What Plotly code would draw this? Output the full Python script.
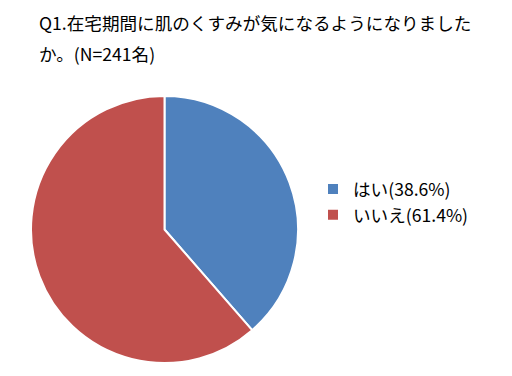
import plotly.graph_objects as go

labels = ["はい(38.6%)", "いいえ(61.4%)"]
values = [38.6, 61.4]
colors = ["#4F81BD", "#C0504D"]
title_lines = ["Q1.在宅期間に肌のくすみが気になるようになりました", "か。(N=241名)"]

W, H = 512, 376
FONT = "Noto Sans CJK JP"

fig = go.Figure(go.Pie(
    labels=labels,
    values=values,
    marker=dict(colors=colors, line=dict(color="white", width=2)),
    sort=False,
    direction="clockwise",
    rotation=0,
    textinfo="none",
    hoverinfo="label",
    domain=dict(x=[31 / W, 298 / W], y=[13 / H, 280 / H]),
))

for i, line in enumerate(title_lines):
    fig.add_annotation(
        text=line,
        xref="paper", yref="paper", x=37 / W, y=1 - (22 + 31 * i) / H,
        xanchor="left", yanchor="middle", align="left", showarrow=False,
        font=dict(family=FONT, size=17.6, color="#000000"),
    )

fig.update_layout(
    width=W, height=H,
    margin=dict(l=0, r=0, t=0, b=0),
    paper_bgcolor="white",
    plot_bgcolor="white",
    showlegend=True,
    legend=dict(
        x=313 / W, y=1 - 171 / H, xanchor="left", yanchor="top",
        font=dict(family=FONT, size=17.6, color="#000000"),
        itemwidth=30, tracegroupgap=0,
    ),
)

fig.write_html("out.html")
